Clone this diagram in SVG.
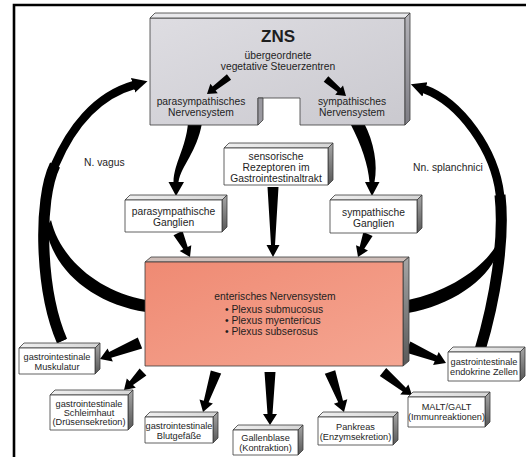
<svg xmlns="http://www.w3.org/2000/svg" width="526" height="457" viewBox="0 0 526 457">
<defs>
<linearGradient id="gSide" x1="0" y1="0" x2="0" y2="1"><stop offset="0" stop-color="#a6a6a6"/><stop offset="1" stop-color="#585858"/></linearGradient>
<linearGradient id="gTop" x1="0" y1="0" x2="1" y2="0"><stop offset="0" stop-color="#efefef"/><stop offset="1" stop-color="#d6d6d6"/></linearGradient>
<linearGradient id="gZns" x1="0" y1="0" x2="1" y2="1"><stop offset="0" stop-color="#dedde2"/><stop offset="1" stop-color="#cac9cf"/></linearGradient>
<linearGradient id="gZnsSide" x1="0" y1="0" x2="0" y2="1"><stop offset="0" stop-color="#b4b3b9"/><stop offset="1" stop-color="#7e7d84"/></linearGradient>
<linearGradient id="gEnt" x1="0" y1="0" x2="1" y2="1"><stop offset="0" stop-color="#ef8a73"/><stop offset="1" stop-color="#f5a692"/></linearGradient>
<marker id="ahL" markerUnits="userSpaceOnUse" viewBox="0 0 16 18" refX="1" refY="9" markerWidth="16" markerHeight="18" orient="auto"><path d="M0,1.5 L15,9 L0,16.5 Z" fill="#000"/></marker>
<style>
.box{stroke:#3a3a3a;stroke-width:0.8;stroke-linejoin:round}
.front{fill:#fff}
.top{fill:url(#gTop)}
.side{fill:url(#gSide)}
text{font-family:"Liberation Sans",Arial,Helvetica,sans-serif;fill:#1e1e1e;text-anchor:middle}
.t{font-size:10.3px}
.s{font-size:9.2px}
.lbl{text-anchor:start}
.arc{fill:none;stroke:#000;stroke-linecap:butt}
.w{fill:#000}
</style>
</defs>

<g id="frame"><path d="M14 457 V5 H526" fill="none" stroke="#000" stroke-width="2.6"/></g>

<g id="connectors">
  <!-- N. vagus -->
  <path class="arc" stroke-width="8.5" d="M62 341 C40 290 38 200 55 165 C70 130 95 96 134 85" marker-end="url(#ahL)"/>
  <path class="arc" stroke-width="11" d="M62 341 C40 290 38 200 55 165"/>
  <path class="w" d="M51 220 C60 258 97 291 146 300 L146 312 C93 304 53 270 46 228 Z"/>
  <!-- Nn. splanchnici -->
  <path class="arc" stroke-width="8.5" d="M480 350 C495 300 505 240 500 195 C495 150 460 102 424 89" marker-end="url(#ahL)"/>
  <path class="arc" stroke-width="11" d="M480 350 C495 300 505 240 500 195"/>
  <path class="w" d="M502 232 C494 262 452 291 408 300 L408 313 C455 305 497 274 499 244 Z"/>
  <!-- ZNS to ganglia -->
  <path class="w" d="M188 123 C186 148 174 163 173.5 182 L168.5 182 L176 196 L184 182 L178.5 182 C181 166 197 152 202 123 Z"/>
  <path class="w" d="M350 123 C362 146 368 165 369.5 182 L365 182 L372 196 L379.5 182 L374.5 182 C378 165 374 142 364 123 Z"/>
  <!-- into enteric system -->
  <polygon class="w" points="267.5,187 271,245 266.5,245 273,257 279.5,245 275,245 278.5,187"/>
  <polygon class="w" points="173.5,235.2 183.3,249.2 179.7,251 190,257 191.3,245.2 187.7,247 182.5,230.8"/>
  <polygon class="w" points="363.4,232 359.7,246.8 356,245.2 358,257 368,250.4 364.3,248.8 372.6,236"/>
  <!-- out of enteric system -->
  <polygon class="w" points="137.8,337.4 109.1,352.1 107.6,348.4 100,359 112.8,361.4 111.3,357.7 142.2,348.6"/>
  <polygon class="w" points="139.6,368.4 129.6,381.3 126.8,378.4 124,390 135.8,387.8 133,384.9 146.4,375.6"/>
  <polygon class="w" points="210.8,370.4 203.8,400.8 199.5,399.4 203,412 212.9,403.6 208.6,402.2 221.2,373.6"/>
  <polygon class="w" points="264.5,372 267.5,414 263,414 270,425 277,414 272.5,414 275.5,372"/>
  <polygon class="w" points="324.8,373.7 338.2,402.3 333.9,403.7 344,412 347.3,399.3 343,400.7 335.2,370.3"/>
  <polygon class="w" points="379.8,375.9 402.7,391.5 400.2,394.6 412,395 408.4,384.6 405.9,387.7 386.2,368.1"/>
  <polygon class="w" points="405.6,352.5 434.7,361.2 433.1,364.9 446,363 438.7,352.1 437.1,355.8 410.4,341.5"/>
</g>

<g id="zns">
  <polygon class="box" fill="url(#gZns)" points="150,18 405,18 405,125 300,125 300,98 258,98 258,125 150,125"/>
  <polygon class="box" fill="#e9e9ec" points="150,18 155,13 410,13 405,18"/>
  <polygon class="box" fill="url(#gZnsSide)" points="405,18 410,13 410,120 405,125"/>
  <polygon class="box" fill="#9a99a0" points="258,98 263,98 263,120 258,125"/>
  <text x="278" y="42" font-size="17" font-weight="bold">ZNS</text>
  <text class="t" x="278" y="59">übergeordnete</text>
  <text class="t" x="278" y="70">vegetative Steuerzentren</text>
  <polygon class="w" points="226.9,74.2 212.6,86.5 210.4,83.8 207,94 217.8,93.2 215.6,90.5 231.1,79.8"/>
  <polygon class="w" points="323.7,81.7 337.5,92.1 335.2,94.8 346,96 343,85.6 340.7,88.3 328.3,76.3"/>
  <text class="t" x="201" y="105">parasympathisches</text>
  <text class="t" x="201" y="116">Nervensystem</text>
  <text class="t" x="352" y="105">sympathisches</text>
  <text class="t" x="352" y="116">Nervensystem</text>
</g>

<g id="labels">
  <text class="t lbl" x="84" y="166">N. vagus</text>
  <text class="t lbl" x="413" y="171">Nn. splanchnici</text>
</g>

<g id="sensorische">
  <polygon class="box top" points="224,148 229,143 333,143 328,148"/>
  <polygon class="box side" points="328,148 333,143 333,180 328,185"/>
  <rect class="box front" x="224" y="148" width="104" height="37"/>
  <text class="t" x="276" y="160">sensorische</text>
  <text class="t" x="276" y="171">Rezeptoren im</text>
  <text class="t" x="276" y="182">Gastrointestinaltrakt</text>
</g>

<g id="para-ganglien">
  <polygon class="box top" points="125,200 130,195 227,195 222,200"/>
  <polygon class="box side" points="222,200 227,195 227,227 222,232"/>
  <rect class="box front" x="125" y="200" width="97" height="32"/>
  <text class="t" x="173.5" y="215">parasympathische</text>
  <text class="t" x="173.5" y="226">Ganglien</text>
</g>

<g id="sym-ganglien">
  <polygon class="box top" points="330,200 335,195 422,195 417,200"/>
  <polygon class="box side" points="417,200 422,195 422,228 417,233"/>
  <rect class="box front" x="330" y="200" width="87" height="33"/>
  <text class="t" x="373.5" y="216">sympathische</text>
  <text class="t" x="373.5" y="227">Ganglien</text>
</g>

<g id="enterisch">
  <polygon class="box" fill="#cdbdb8" points="145,262 151,257 409,257 403,262"/>
  <polygon class="box" fill="url(#gSide)" points="403,262 409,257 409,361 403,366"/>
  <rect class="box" fill="url(#gEnt)" x="145" y="262" width="258" height="104"/>
  <text class="t" x="275" y="300">enterisches Nervensystem</text>
  <text class="t lbl" x="225" y="313">• Plexus submucosus</text>
  <text class="t lbl" x="225" y="324">• Plexus myentericus</text>
  <text class="t lbl" x="225" y="335">• Plexus subserosus</text>
</g>

<g id="muskulatur">
  <polygon class="box top" points="19,348 24,343 100,343 95,348"/>
  <polygon class="box side" points="95,348 100,343 100,369 95,374"/>
  <rect class="box front" x="19" y="348" width="76" height="26"/>
  <text class="s" x="57" y="360">gastrointestinale</text>
  <text class="s" x="57" y="370">Muskulatur</text>
</g>

<g id="schleimhaut">
  <polygon class="box top" points="50,395 55,390 133,390 128,395"/>
  <polygon class="box side" points="128,395 133,390 133,425 128,430"/>
  <rect class="box front" x="50" y="395" width="78" height="35"/>
  <text class="s" x="89" y="407">gastrointestinale</text>
  <text class="s" x="89" y="416">Schleimhaut</text>
  <text class="s" x="89" y="425">(Drüsensekretion)</text>
</g>

<g id="blutgefaesse">
  <polygon class="box top" points="145,417 150,412 218,412 213,417"/>
  <polygon class="box side" points="213,417 218,412 218,438 213,443"/>
  <rect class="box front" x="145" y="417" width="68" height="26"/>
  <text class="s" x="179" y="429">gastrointestinale</text>
  <text class="s" x="179" y="439">Blutgefäße</text>
</g>

<g id="gallenblase">
  <polygon class="box top" points="233,430 238,425 303,425 298,430"/>
  <polygon class="box side" points="298,430 303,425 303,450 298,455"/>
  <rect class="box front" x="233" y="430" width="65" height="25"/>
  <text class="s" x="265.5" y="441">Gallenblase</text>
  <text class="s" x="265.5" y="451">(Kontraktion)</text>
</g>

<g id="pankreas">
  <polygon class="box top" points="318,417 323,412 398,412 393,417"/>
  <polygon class="box side" points="393,417 398,412 398,440 393,445"/>
  <rect class="box front" x="318" y="417" width="75" height="28"/>
  <text class="s" x="355.5" y="430">Pankreas</text>
  <text class="s" x="355.5" y="440">(Enzymsekretion)</text>
</g>

<g id="malt">
  <polygon class="box top" points="408,397 413,392 490,392 485,397"/>
  <polygon class="box side" points="485,397 490,392 490,422 485,427"/>
  <rect class="box front" x="408" y="397" width="77" height="30"/>
  <text class="s" x="446.5" y="410">MALT/GALT</text>
  <text class="s" x="446.5" y="420">(Immunreaktionen)</text>
</g>

<g id="endokrin">
  <polygon class="box top" points="448,352 453,347 525,347 520,352"/>
  <polygon class="box side" points="520,352 525,347 525,376 520,381"/>
  <rect class="box front" x="448" y="352" width="72" height="29"/>
  <text class="s" x="484" y="365">gastrointestinale</text>
  <text class="s" x="484" y="375">endokrine Zellen</text>
</g>
</svg>
